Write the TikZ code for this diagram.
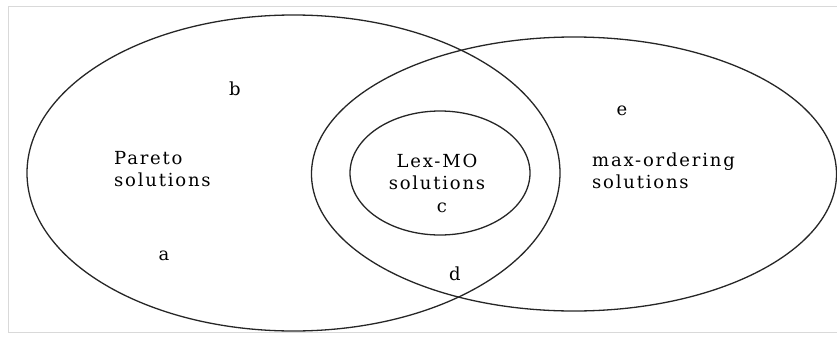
\documentclass[tikz,border=0pt]{standalone}
\usepackage{fontspec}
\setmainfont{DejaVu Serif}[LetterSpace=10]
\begin{document}
\begin{tikzpicture}[x=1pt,y=-1pt,
  setline/.style={draw=black!85,line width=1.3pt},
  lbl/.style={font=\fontsize{18}{21.5}\selectfont,text=black,inner sep=0pt},
  multi/.style={lbl,align=left}]
\useasboundingbox (0,0) rectangle (837,340);
% faint scan frame
\draw[black!15,line width=0.6pt] (837,6) -- (8,6) -- (8,332) -- (837,332);
% sets
\draw[setline] (293.5,173) ellipse [x radius=266.5, y radius=158];
\draw[setline] (574,174) ellipse [x radius=262.5, y radius=137];
\draw[setline] (440,173) ellipse [x radius=90, y radius=62];
% labels
\node[multi,anchor=west] (pareto) at (114,169) {Pareto\\solutions};
\node[lbl,align=center] (lex) at (437,172) {Lex-MO\\solutions};
\node[multi,anchor=west] (maxo) at (592,171) {max-ordering\\solutions};
\node[lbl] (a) at (164,256) {a};
\node[lbl] (b) at (235,89) {b};
\node[lbl] (c) at (442,208) {c};
\node[lbl] (d) at (455,274) {d};
\node[lbl] (e) at (622,111) {e};
\end{tikzpicture}
\end{document}
